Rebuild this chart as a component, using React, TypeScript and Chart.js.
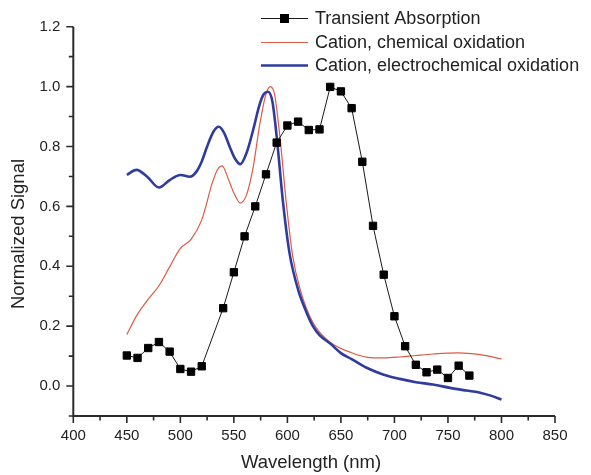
import React, { useEffect, useRef } from "react";
import { Chart, registerables } from "chart.js";
Chart.register(...registerables);

// ---- data ----
const seriesNames = [
  "Transient Absorption",
  "Cation, chemical oxidation",
  "Cation, electrochemical oxidation",
];

const transientNm = [
  450, 460, 470, 480, 490, 500, 510, 520, 540, 550, 560, 570, 580, 590, 600,
  610, 620, 630, 640, 650, 660, 670, 680, 690, 700, 710, 720, 730, 740, 750,
  760, 770,
];
const transientVal = [
  0.102, 0.094, 0.127, 0.147, 0.115, 0.057, 0.048, 0.066, 0.26, 0.38, 0.5,
  0.6, 0.707, 0.813, 0.87, 0.883, 0.855, 0.857, 0.999, 0.984, 0.928, 0.749,
  0.535, 0.372, 0.233, 0.133, 0.071, 0.046, 0.055, 0.027, 0.068, 0.035,
];

const chemNm = [
  450, 460, 470, 480, 490, 500, 510, 520, 530, 535, 539, 545, 550, 556, 562,
  568, 574, 580, 584, 588, 593, 599, 605, 612, 624, 640, 660, 675, 690, 705,
  720, 736, 760, 780, 800,
];
const chemVal = [
  0.172, 0.24, 0.29, 0.335, 0.398, 0.46, 0.49, 0.555, 0.68, 0.725, 0.735,
  0.69, 0.645, 0.611, 0.64, 0.73, 0.87, 0.975, 1.0, 0.975, 0.833, 0.611,
  0.433, 0.322, 0.211, 0.146, 0.111, 0.096, 0.094, 0.097, 0.102, 0.107, 0.111,
  0.105, 0.091,
];

const electroNm = [
  450, 459, 469, 480, 490, 500, 509, 515, 520, 525, 531, 536, 541, 546, 551,
  556, 562, 568, 574, 578, 582, 586, 590, 596, 602, 610, 618, 624, 630, 640,
  650, 660, 674, 690, 705, 720, 736, 752, 767, 781, 790, 800,
];
const electroVal = [
  0.705, 0.722, 0.699, 0.663, 0.688, 0.705, 0.699, 0.716, 0.75, 0.8, 0.85,
  0.866, 0.845, 0.8, 0.76, 0.741, 0.78, 0.855, 0.94, 0.975, 0.983, 0.95,
  0.833, 0.611, 0.444, 0.322, 0.245, 0.199, 0.17, 0.142, 0.11, 0.09, 0.061,
  0.038, 0.024, 0.013, 0.005, -0.006, -0.015, -0.023, -0.032, -0.045,
];

const xTickLabels = [400, 450, 500, 550, 600, 650, 700, 750, 800, 850];
const xMinorTicks = [425, 475, 525, 575, 625, 675, 725, 775, 825];
const yTickLabels = [0, 0.2, 0.4, 0.6, 0.8, 1.0, 1.2];
const yMinorTicks = [-0.1, 0.1, 0.3, 0.5, 0.7, 0.9, 1.1];

const xTitle = "Wavelength (nm)";
const yTitle = "Normalized Signal";

const FONT = "'Liberation Sans', Arial, sans-serif";
const AXIS_COLOR = "#2b2b2b";
const BLACK = "#1a1a1a";
const RED = "#de5a44";
const BLUE = "#2f3b9f";

const toXY = (xs: number[], ys: number[]) =>
  xs.map((x, i) => ({ x, y: ys[i] }));

const decorPlugin = {
  id: "decor",
  afterDraw(chart: any) {
    const { ctx, chartArea, scales } = chart;
    const xs = scales.x;
    const ys = scales.y;
    ctx.save();
    // axes
    ctx.strokeStyle = AXIS_COLOR;
    ctx.lineWidth = 2;
    ctx.beginPath();
    ctx.moveTo(chartArea.left, chartArea.top);
    ctx.lineTo(chartArea.left, chartArea.bottom);
    ctx.lineTo(chartArea.right, chartArea.bottom);
    ctx.stroke();
    ctx.lineWidth = 1.6;
    ctx.beginPath();
    yTickLabels.forEach((v) => {
      const p = ys.getPixelForValue(v);
      ctx.moveTo(chartArea.left - 7, p);
      ctx.lineTo(chartArea.left, p);
    });
    yMinorTicks.forEach((v) => {
      const p = ys.getPixelForValue(v);
      ctx.moveTo(chartArea.left - 4.5, p);
      ctx.lineTo(chartArea.left, p);
    });
    xTickLabels.forEach((v) => {
      const p = xs.getPixelForValue(v);
      ctx.moveTo(p, chartArea.bottom);
      ctx.lineTo(p, chartArea.bottom + 7);
    });
    xMinorTicks.forEach((v) => {
      const p = xs.getPixelForValue(v);
      ctx.moveTo(p, chartArea.bottom);
      ctx.lineTo(p, chartArea.bottom + 4.5);
    });
    ctx.stroke();

    // titles
    ctx.fillStyle = "#222";
    ctx.font = `18.5px ${FONT}`;
    ctx.textAlign = "center";
    ctx.textBaseline = "middle";
    ctx.fillText(xTitle, 311, 463);
    ctx.save();
    ctx.translate(19, 234);
    ctx.rotate(-Math.PI / 2);
    ctx.fillText(yTitle, 0, 0);
    ctx.restore();

    // legend
    const rows = [18.5, 42.5, 65.5];
    const x0 = 261;
    const x1 = 308;
    ctx.font = `18px ${FONT}`;
    ctx.textAlign = "left";
    chart.data.datasets.forEach((ds: any, i: number) => {
      const y = rows[i];
      ctx.strokeStyle = ds.borderColor;
      ctx.lineWidth = ds.borderWidth;
      ctx.beginPath();
      ctx.moveTo(x0, y);
      ctx.lineTo(x1, y);
      ctx.stroke();
      if (ds.pointRadius > 0) {
        ctx.fillStyle = "#000";
        ctx.fillRect((x0 + x1) / 2 - 4.5, y - 4.5, 9, 9);
      }
      ctx.fillStyle = "#222";
      ctx.fillText(ds.label, 315, y + 1);
    });
    ctx.restore();
  },
};

export default function App() {
  const ref = useRef<HTMLCanvasElement | null>(null);
  useEffect(() => {
    if (!ref.current) return;
    const chart = new Chart(ref.current, {
      type: "line",
      data: {
        datasets: [
          {
            label: seriesNames[0],
            data: toXY(transientNm, transientVal),
            borderColor: BLACK,
            borderWidth: 1,
            pointStyle: "rect",
            pointRadius: 5.2,
            pointBackgroundColor: "#000",
            pointBorderColor: "#000",
            pointBorderWidth: 1,
            tension: 0,
            order: 0,
          },
          {
            label: seriesNames[1],
            data: toXY(chemNm, chemVal),
            borderColor: RED,
            borderWidth: 1.2,
            pointRadius: 0,
            cubicInterpolationMode: "monotone",
            order: 2,
          },
          {
            label: seriesNames[2],
            data: toXY(electroNm, electroVal),
            borderColor: BLUE,
            borderWidth: 2.6,
            pointRadius: 0,
            cubicInterpolationMode: "monotone",
            order: 1,
          },
        ],
      } as any,
      options: {
        animation: false,
        responsive: false,
        devicePixelRatio: 1,
        layout: { padding: { top: 26.7, right: 36, left: 0, bottom: 0 } },
        plugins: { legend: { display: false }, tooltip: { enabled: false } },
        scales: {
          x: {
            type: "linear",
            min: 400,
            max: 850,
            afterBuildTicks: (s: any) => {
              s.ticks = xTickLabels.map((v) => ({ value: v }));
            },
            afterFit: (s: any) => {
              s.height = 59;
            },
            ticks: {
              font: { family: FONT, size: 15 },
              color: "#222",
              padding: 11,
              maxRotation: 0,
              autoSkip: false,
            },
            grid: { display: false, drawTicks: false },
            border: { display: false },
          },
          y: {
            type: "linear",
            min: -0.1,
            max: 1.2,
            afterBuildTicks: (s: any) => {
              s.ticks = yTickLabels.map((v) => ({ value: v }));
            },
            afterFit: (s: any) => {
              s.width = 73.3;
            },
            ticks: {
              font: { family: FONT, size: 15 },
              color: "#222",
              padding: 13,
              autoSkip: false,
              callback: (v: any) => Number(v).toFixed(1),
            },
            grid: { display: false, drawTicks: false },
            border: { display: false },
          },
        },
      } as any,
      plugins: [decorPlugin],
    });
    return () => chart.destroy();
  }, []);
  return (
    <div style={{ position: "absolute", left: 0, top: 0, width: 591, height: 475, background: "#fff" }}>
      <canvas ref={ref} width={591} height={475} />
    </div>
  );
}
